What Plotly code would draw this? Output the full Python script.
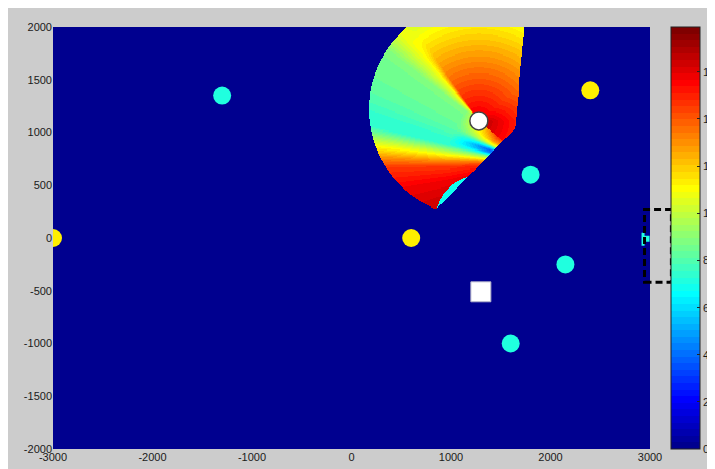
import numpy as np
import plotly.graph_objects as go

# ---------------- axes / scale ----------------
x_range = [-3000, 3000]
y_range = [-2000, 2000]
x_ticks = [-3000, -2000, -1000, 0, 1000, 2000, 3000]
y_ticks = [-2000, -1500, -1000, -500, 0, 500, 1000, 1500, 2000]
cbar_ticks = [0, 2, 4, 6, 8, 10, 12, 14, 16]
c_min, c_max = 0.0, 17.9

# ---------------- point objects ----------------
cyan_x = [-1300, 1800, 2150, 1600]
cyan_y = [1350, 600, -250, -1000]
cyan_v = [7.1, 7.1, 7.1, 7.1]
yellow_x = [-3000, 600, 2400]
yellow_y = [0, 0, 1400]
yellow_v = [11.3, 11.3, 11.3]
circle_x = [1280]
circle_y = [1110]
square_x = [1300]
square_y = [-510]

# small cyan patch at the right border (cell edges / values)
patch_x_edges = [2915, 2950, 3000]
patch_y_edges = [-70, -35, 25, 50]
patch_z = [[7.0, None], [7.0, 7.0], [7.0, None]]

# dashed box
box_x = [2945, 3215]
box_y = [-420, 270]

# ---------------- fan (coverage sector) ----------------
arc_center = (1266, 1221)
arc_radii = (1085, 1026)
lower_edge = [(839, 261), (1643, 1040)]
right_edge = [(1643, 1040), (1744, 2000)]
src_P = (1810, 690)      # point the lower stripes radiate from
src_W = (1280, 1110)     # point the upper ring pattern is centred on

# angular profile around P (degrees)
prof_angles = [120, 133, 140, 148, 153, 157, 160, 163, 166, 168, 171, 174, 177, 181, 190, 200, 215]
prof_far    = [9.2, 9.0, 8.8, 8.5, 8.3, 8.0, 7.7, 7.3, 7.3, 8.4, 10.0, 11.5, 13.0, 14.6, 15.7, 16.3, 16.6]
prof_near   = [15.6, 15.4, 14.6, 12.8, 10.5, 6.0, 3.8, 4.5, 7.0, 8.8, 10.4, 12.3, 13.8, 15.0, 15.9, 16.4, 16.6]

# upper sector radial law around W: value = ring_v0 - ring_k * distance(px) + edge boost
ring_v0, ring_k, edge_boost = 16.1, 0.05, 0.8
ridge_angle, ridge_value = 130.5, 10.9

# ---------------- build field ----------------
step = 10
gx = np.arange(150, 1800, step) + step / 2
gy = np.arange(200, 2000, step) + step / 2
X, Y = np.meshgrid(gx, gy)

plot_w, plot_h = 597.0, 422.0
kx = plot_w / (x_range[1] - x_range[0])
ky = plot_h / (y_range[1] - y_range[0])

def cross(a, b, x, y):
    return (b[0] - a[0]) * (y - a[1]) - (b[1] - a[1]) * (x - a[0])

inside = (((X - arc_center[0]) / arc_radii[0]) ** 2 + ((Y - arc_center[1]) / arc_radii[1]) ** 2 <= 1.0)
inside &= cross(lower_edge[0], lower_edge[1], X, Y) > 0
inside &= cross(right_edge[0], right_edge[1], X, Y) > 0

dxP, dyP = (X - src_P[0]) * kx, (Y - src_P[1]) * ky
dP = np.hypot(dxP, dyP)
thP = np.degrees(np.arctan2(dyP, dxP)) % 360
dxW, dyW = (X - src_W[0]) * kx, (Y - src_W[1]) * ky
dW = np.hypot(dxW, dyW)
thW = np.degrees(np.arctan2(dyW, dxW))

far = np.interp(thP, prof_angles, prof_far)
near = np.interp(thP, prof_angles, prof_near)
t = np.clip((dP - 45) / 40, 0, 1)
vB = near * (1 - t) + far * t
# yellow-green fade left of the ridge
r = np.where((thW >= ridge_angle) & (thW < 180), np.clip(1 - (thW - ridge_angle) / 12, 0, 1), 0)
r = r * np.clip((dW - 8) / 10, 0, 1)
vB = vB * (1 - r) + ridge_value * r

vA = ring_v0 - ring_k * dW + edge_boost * np.clip((40 - thW) / 40, 0, 1)
s = np.clip((thW - (ridge_angle - 6)) / 6, 0, 1)
vA = vA * (1 - s) + ridge_value * s

regionA = (thW > -40) & (thW < ridge_angle)
V = np.where(regionA, vA, vB)

# cyan speckled strip along the lower cut edge
ax_, ay_ = lower_edge[0]
bx_, by_ = lower_edge[1]
ex, ey = (bx_ - ax_) * kx, (by_ - ay_) * ky
elen = np.hypot(ex, ey)
px_, py_ = (X - ax_) * kx, (Y - ay_) * ky
along = (px_ * ex + py_ * ey) / elen
perp = (ex * py_ - ey * px_) / elen
sa = (along - 2) / 46.0
strip = (sa > 0) & (sa < 1) & (perp < 6 * np.sin(np.pi * np.clip(sa, 0, 1)))
V = np.where(strip, 6.8, V)

Z = np.where(inside, V, np.nan).astype(np.float32)

# ---------------- jet(64) stepped colorscale ----------------
n = 16
u = np.concatenate([np.arange(1, n + 1) / n, np.ones(n - 1), np.arange(n, 0, -1) / n])
m = 64
R = np.zeros(m); G = np.zeros(m); B = np.zeros(m)
for k in range(1, m + 1):
    i = k + 8
    if 1 <= i <= len(u):
        B[k - 1] = u[i - 1]
    i = k - 8
    if 1 <= i <= len(u):
        G[k - 1] = u[i - 1]
    i = k - 24
    if 1 <= i <= len(u):
        R[k - 1] = u[i - 1]
colorscale = []
for k in range(m):
    c = "rgb(%d,%d,%d)" % (round(R[k] * 255), round(G[k] * 255), round(B[k] * 255))
    colorscale.append([k / m, c])
    colorscale.append([(k + 1) / m, c])
bg = "rgb(%d,%d,%d)" % (round(R[0] * 255), round(G[0] * 255), round(B[0] * 255))

fig = go.Figure()
fig.add_trace(go.Heatmap(x=np.arange(150, 1801, step), y=np.arange(200, 2001, step), z=Z,
                         coloraxis="coloraxis", hoverinfo="skip"))
fig.add_trace(go.Heatmap(x=patch_x_edges, y=patch_y_edges, z=patch_z,
                         coloraxis="coloraxis", hoverinfo="skip"))
fig.add_trace(go.Scatter(x=cyan_x + yellow_x, y=cyan_y + yellow_y, mode="markers",
                         marker=dict(size=18, color=cyan_v + yellow_v, coloraxis="coloraxis",
                                     line=dict(width=0)),
                         hoverinfo="skip", showlegend=False))
fig.add_trace(go.Scatter(x=circle_x, y=circle_y, mode="markers",
                         marker=dict(size=18, color="white", line=dict(color="#444444", width=1.5)),
                         showlegend=False, hoverinfo="skip"))
fig.add_trace(go.Scatter(x=square_x, y=square_y, mode="markers",
                         marker=dict(size=20, symbol="square", color="white",
                                     line=dict(color="#B0B0C8", width=1)),
                         showlegend=False, hoverinfo="skip"))

def to_paper(v, rng):
    return (v - rng[0]) / (rng[1] - rng[0])

fig.add_shape(type="rect", xref="paper", yref="paper",
              x0=to_paper(box_x[0], x_range), x1=to_paper(box_x[1], x_range),
              y0=to_paper(box_y[0], y_range), y1=to_paper(box_y[1], y_range),
              line=dict(color="black", width=3, dash="7px,4px"), layer="above")

# page body has an 8px margin, so the figure is 8px smaller and margins shifted by 8px
font = dict(family="Liberation Sans, Arial, sans-serif", size=11, color="#1a1a1a")
cb_left = (663 - 45) / 597.0
cb_label_x = (693 - 45) / 597.0
for tv in cbar_ticks:
    fig.add_annotation(x=cb_label_x, y=to_paper(tv, [c_min, c_max]), xref="paper", yref="paper",
                       text=str(tv), showarrow=False, xanchor="left", yanchor="middle",
                       font=font)

fig.update_layout(
    width=707, height=461,
    margin=dict(l=45, r=65, t=19, b=20, autoexpand=False),
    paper_bgcolor="#CCCCCC", plot_bgcolor=bg,
    showlegend=False,
    font=font,
    xaxis=dict(range=x_range, tickvals=x_ticks, ticktext=[str(v) for v in x_ticks],
               showgrid=False, zeroline=False, ticks="", showline=False, tickfont=font),
    yaxis=dict(range=y_range, tickvals=y_ticks, ticktext=[str(v) for v in y_ticks],
               showgrid=False, zeroline=False, ticks="", showline=False, tickfont=font),
    coloraxis=dict(colorscale=colorscale, cmin=c_min, cmax=c_max,
                   colorbar=dict(x=cb_left, xanchor="left", xpad=0, ypad=0,
                                 y=0.5, yanchor="middle", len=1, lenmode="fraction",
                                 thickness=29, thicknessmode="pixels",
                                 tickvals=cbar_ticks, ticks="inside", ticklen=3,
                                 showticklabels=False,
                                 tickcolor="#222222", outlinecolor="#222222", outlinewidth=1)),
)
fig.write_html("out.html")
